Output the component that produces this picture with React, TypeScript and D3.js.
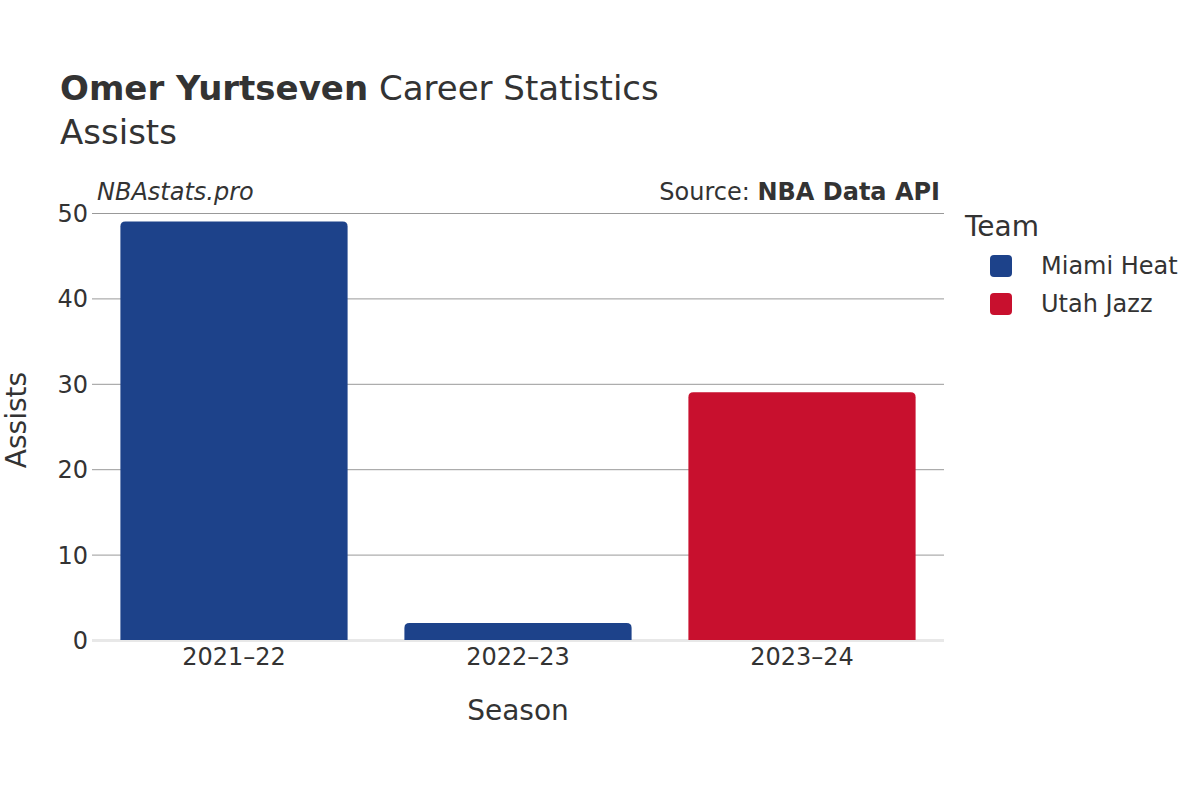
import React, { useEffect, useRef } from "react";
import * as d3 from "d3";

const seasons = ["2021–22", "2022–23", "2023–24"];
const assists = [49, 2, 29];
const teamOfSeason = ["Miami Heat", "Miami Heat", "Utah Jazz"];
const teams = ["Miami Heat", "Utah Jazz"];
const teamColors = ["#1D428A", "#C8102E"];
const yTicks = [0, 10, 20, 30, 40, 50];

const FONT = "'DejaVu Sans', sans-serif";

const App = () => {
  const svgRef = useRef<SVGSVGElement>(null);

  useEffect(() => {
    const w = 1200;
    const h = 800;
    const m = { left: 92, right: 944, top: 213, bottom: 640 };
    const svg = d3.select(svgRef.current).attr("width", w).attr("height", h);
    svg.selectAll("*").remove();

    svg.append("rect").attr("width", w).attr("height", h).attr("fill", "#fff");

    const x = d3
      .scaleBand()
      .domain(seasons)
      .range([m.left, m.right])
      .paddingInner(0.2)
      .paddingOuter(0.1);
    const y = d3.scaleLinear().domain([0, 50]).range([m.bottom, m.top]);
    const color = d3.scaleOrdinal<string, string>().domain(teams).range(teamColors);

    // title
    const title = svg
      .append("text")
      .attr("x", 60)
      .attr("y", 100)
      .attr("font-family", FONT)
      .attr("font-size", 34)
      .attr("fill", "#333");
    title.append("tspan").attr("font-weight", "bold").text("Omer Yurtseven");
    title.append("tspan").text(" Career Statistics");
    svg
      .append("text")
      .attr("x", 60)
      .attr("y", 144)
      .attr("font-family", FONT)
      .attr("font-size", 34)
      .attr("fill", "#333")
      .text("Assists");

    svg
      .append("text")
      .attr("x", 97)
      .attr("y", 200)
      .attr("font-family", FONT)
      .attr("font-size", 24)
      .attr("font-style", "italic")
      .attr("fill", "#333")
      .text("NBAstats.pro");
    const src = svg
      .append("text")
      .attr("x", 940)
      .attr("y", 200)
      .attr("text-anchor", "end")
      .attr("font-family", FONT)
      .attr("font-size", 24)
      .attr("fill", "#333");
    src.append("tspan").text("Source: ");
    src.append("tspan").attr("font-weight", "bold").text("NBA Data API");

    // grid + y axis
    const yAxis = d3
      .axisLeft(y)
      .tickValues(yTicks)
      .tickSize(-(m.right - m.left))
      .tickPadding(4);
    const gy = svg.append("g").attr("transform", `translate(${m.left},0)`).call(yAxis);
    gy.select(".domain").remove();
    gy.selectAll(".tick line").attr("stroke", "#999").attr("stroke-width", 1);
    gy.selectAll(".tick")
      .filter((d) => d === 0)
      .select("line")
      .attr("stroke", "#e8e8e8")
      .attr("stroke-width", 3);
    gy.selectAll(".tick text")
      .attr("font-family", FONT)
      .attr("font-size", 24)
      .attr("fill", "#333")
      .attr("dy", "0.35em");

    // bars with rounded tops
    const r = 5;
    svg
      .selectAll(".bar")
      .data(seasons)
      .join("path")
      .attr("class", "bar")
      .attr("fill", (d, i) => color(teamOfSeason[i]))
      .attr("d", (d, i) => {
        const x0 = x(d)!;
        const x1 = x0 + x.bandwidth();
        const y0 = y(0);
        const y1 = y(assists[i]);
        const rr = Math.min(r, (y0 - y1) / 2);
        return `M${x0},${y0}V${y1 + rr}Q${x0},${y1} ${x0 + rr},${y1}H${x1 - rr}Q${x1},${y1} ${x1},${y1 + rr}V${y0}Z`;
      });

    // x axis
    const gx = svg
      .append("g")
      .attr("transform", `translate(0,${m.bottom})`)
      .call(d3.axisBottom(x).tickSize(0).tickPadding(8));
    gx.select(".domain").remove();
    gx.selectAll(".tick text")
      .attr("font-family", FONT)
      .attr("font-size", 24)
      .attr("fill", "#333")
      .attr("dy", "0.71em");

    svg
      .append("text")
      .attr("x", (m.left + m.right) / 2)
      .attr("y", 720)
      .attr("text-anchor", "middle")
      .attr("font-family", FONT)
      .attr("font-size", 28)
      .attr("fill", "#333")
      .text("Season");
    svg
      .append("text")
      .attr("transform", `translate(26,420) rotate(-90)`)
      .attr("text-anchor", "middle")
      .attr("font-family", FONT)
      .attr("font-size", 28)
      .attr("fill", "#333")
      .text("Assists");

    // legend
    svg
      .append("text")
      .attr("x", 965)
      .attr("y", 236)
      .attr("font-family", FONT)
      .attr("font-size", 28)
      .attr("fill", "#333")
      .text("Team");
    const lg = svg
      .selectAll(".lg")
      .data(teams)
      .join("g")
      .attr("class", "lg")
      .attr("transform", (d, i) => `translate(990,${255 + i * 38})`);
    lg.append("rect")
      .attr("width", 22)
      .attr("height", 22)
      .attr("rx", 4)
      .attr("fill", (d) => color(d));
    lg.append("text")
      .attr("x", 51)
      .attr("y", 11)
      .attr("dy", "0.35em")
      .attr("font-family", FONT)
      .attr("font-size", 24)
      .attr("fill", "#333")
      .text((d) => d);
  }, []);

  return <svg ref={svgRef} style={{ display: "block", position: "absolute", left: 0, top: 0 }}></svg>;
};

export default App;
